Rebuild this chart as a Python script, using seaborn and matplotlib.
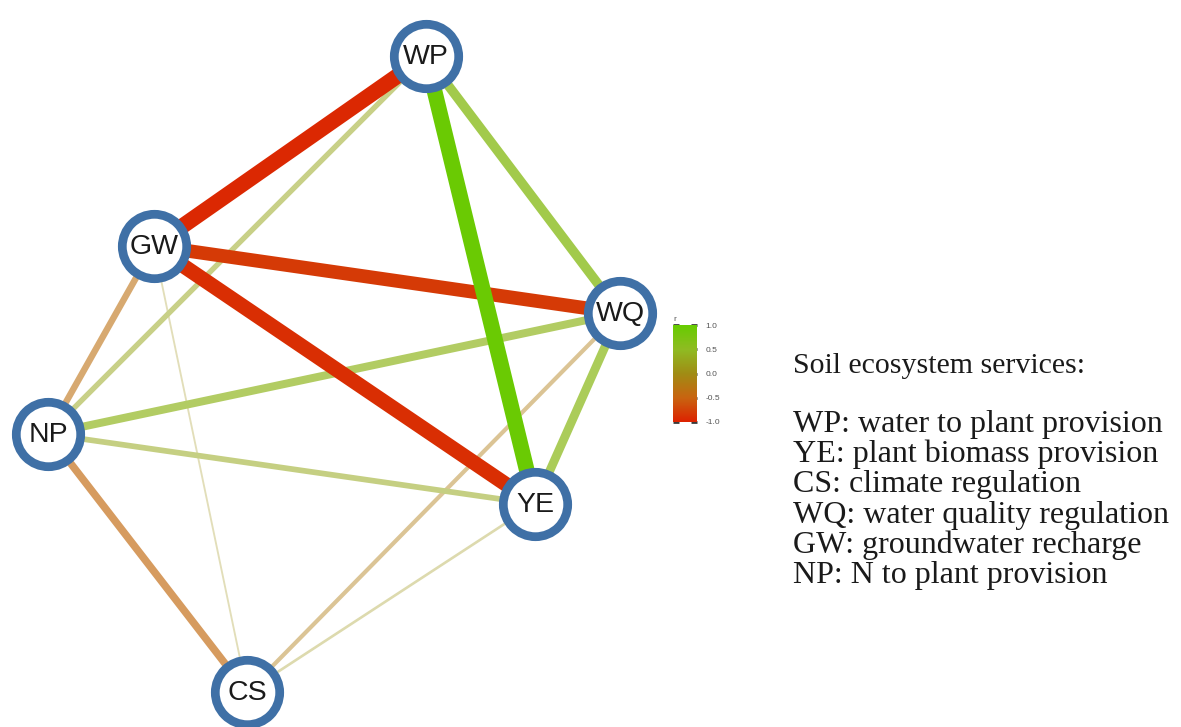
import numpy as np
import seaborn as sns
import matplotlib.pyplot as plt
import matplotlib as mpl

# nodes and their layout positions (layout units, y grows downward)
nodes = ["WP", "GW", "WQ", "NP", "YE", "CS"]
node_x = [426, 154, 620, 48, 535, 247]
node_y = [56, 246, 313, 434, 504, 692]

# pairwise correlations between services
edge_from = ["WP", "WP", "GW", "GW", "WP", "WQ", "WQ", "NP", "GW", "NP", "WP", "WQ", "YE", "GW"]
edge_to = ["GW", "YE", "YE", "WQ", "WQ", "YE", "NP", "CS", "NP", "YE", "NP", "CS", "CS", "CS"]
edge_r = [-0.95, 0.95, -0.9, -0.82, 0.55, 0.5, 0.45, -0.42, -0.35, 0.3, 0.28, -0.2, 0.1, 0.05]

cbar_ticks = [1.0, 0.5, 0.0, -0.5, -1.0]

legend_title = "Soil ecosystem services:"
legend_items = [
    "WP: water to plant provision",
    "YE: plant biomass provision",
    "CS: climate regulation",
    "WQ: water quality regulation",
    "GW: groundwater recharge",
    "NP: N to plant provision",
]

sns.set_theme(style="white")
plt.rcParams["font.family"] = ["Liberation Sans", "DejaVu Sans"]
plt.rcParams["axes.unicode_minus"] = False

cmap = sns.blend_palette(["#dd2200", "#c86410", "#a08c14", "#8fbb22", "#66cc00"], as_cmap=True)
norm = mpl.colors.Normalize(vmin=-1, vmax=1)

fig = plt.figure(figsize=(11.81, 7.27), dpi=100)
ax = fig.add_axes([0, 0, 1, 1])
ax.set_xlim(0, 1181)
ax.set_ylim(727, 0)
ax.axis("off")

pos = {n: (x, y) for n, x, y in zip(nodes, node_x, node_y)}

# weakest edges first so the strong ones sit on top
order = np.argsort(np.abs(edge_r))
for i in order:
    a, b, r = edge_from[i], edge_to[i], edge_r[i]
    rgb = np.array(cmap(norm(r))[:3])
    fade = min(1.0, 0.25 + abs(r))
    col = fade * rgb + (1 - fade) * np.ones(3)
    ax.plot([pos[a][0], pos[b][0]], [pos[a][1], pos[b][1]],
            color=col, lw=0.8 + 11 * abs(r), solid_capstyle="butt", zorder=1)

ax.scatter(node_x, node_y, s=2150, facecolor="white", edgecolor="#3f70a6",
           linewidth=6.3, zorder=3)
for n, x, y in zip(nodes, node_x, node_y):
    ax.text(x, y + 1, n, ha="center", va="center", fontsize=20.5, color="#1a1a1a", zorder=4)

# colour key
cax = fig.add_axes([673 / 1181, 1 - 422 / 727, 24 / 1181, 97 / 727])
cb = fig.colorbar(mpl.cm.ScalarMappable(norm=norm, cmap=cmap), cax=cax, ticks=cbar_ticks)
cb.outline.set_visible(False)
cax.tick_params(axis="y", direction="in", length=4, width=2, color="#3a3a3a",
                labelsize=6, labelcolor="#555555", left=True, right=True, pad=6)
cax.set_title("r", fontsize=6, color="#555555", loc="left", pad=3)

fig.text(793 / 1181, 1 - 373 / 727, legend_title, family="Liberation Serif",
         fontsize=21.5, color="#1a1a1a", va="baseline")
for k, item in enumerate(legend_items):
    fig.text(793 / 1181, 1 - (432 + 30.2 * k) / 727, item, family="Liberation Serif",
             fontsize=23, color="#1a1a1a", va="baseline")

fig.savefig("out.png", dpi=100, facecolor="white")
